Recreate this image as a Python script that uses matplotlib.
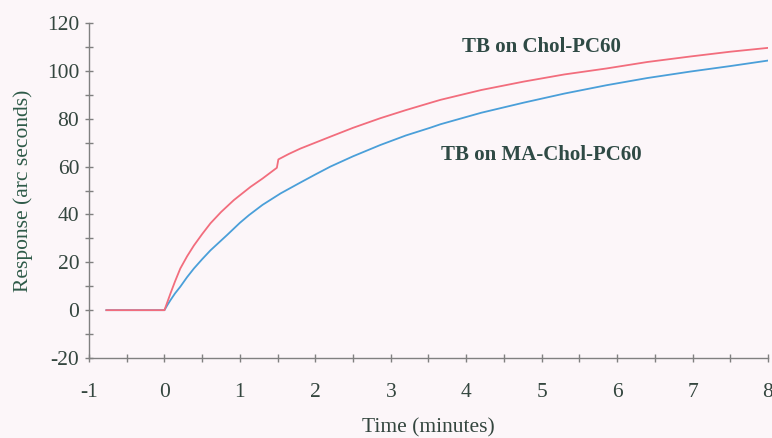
import matplotlib
matplotlib.use("Agg")
import matplotlib.pyplot as plt
from matplotlib.ticker import MultipleLocator

plt.rcParams["axes.unicode_minus"] = False

time_chol = [-0.77, 0.0, 0.04, 0.08, 0.14, 0.21, 0.3, 0.39, 0.5, 0.61, 0.75, 0.92,
             1.14, 1.3, 1.49, 1.51, 1.65, 1.8, 2.0, 2.2, 2.5, 2.86, 3.2, 3.52,
             3.66, 4.2, 4.76, 5.3, 5.86, 6.4, 6.97, 7.5, 8.0]
resp_chol = [0, 0, 3.5, 7, 12, 17.4, 22.5, 27, 31.8, 36.3, 41, 46,
             51.5, 55, 59.5, 63, 65.3, 67.5, 70, 72.5, 76.2, 80.2, 83.6, 86.6,
             87.9, 92, 95.5, 98.5, 101, 103.7, 106, 108, 109.6]

time_ma = [-0.77, 0.0, 0.04, 0.08, 0.14, 0.21, 0.3, 0.39, 0.5, 0.61, 0.83, 1.0,
           1.12, 1.3, 1.54, 1.8, 2.0, 2.2, 2.5, 2.86, 3.2, 3.52, 3.66, 4.2,
           4.76, 5.3, 5.86, 6.4, 6.97, 7.5, 8.0]
resp_ma = [0, 0, 2.2, 4.2, 7, 9.8, 13.8, 17.4, 21.3, 25, 31.4, 36.5,
           39.7, 44, 48.8, 53.3, 56.7, 60, 64.3, 69, 73.0, 76.2, 77.7, 82.5,
           86.7, 90.5, 94, 97, 99.7, 102, 104.3]

label_chol = "TB on Chol-PC60"
label_ma = "TB on MA-Chol-PC60"
x_ticks = [-1, 0, 1, 2, 3, 4, 5, 6, 7, 8]
y_ticks = [-20, 0, 20, 40, 60, 80, 100, 120]

bg = "#fcf6f9"
txt = "#34463f"
axc = "#808080"
serif = ["Liberation Serif", "DejaVu Serif"]

fig = plt.figure(figsize=(7.72, 4.38), dpi=100, facecolor=bg)
ax = fig.add_axes([0.1153, 0.1826, 0.9948 - 0.1153, 0.9475 - 0.1826])
ax.set_facecolor(bg)

ax.plot(time_ma, resp_ma, color="#4a9fd9", lw=1.3)
ax.plot(time_chol, resp_chol, color="#f26d7d", lw=1.3)

ax.set_xlim(-1, 8)
ax.set_ylim(-20, 120)
ax.set_xticks(x_ticks)
ax.set_yticks(y_ticks)
ax.xaxis.set_minor_locator(MultipleLocator(0.5))
ax.yaxis.set_minor_locator(MultipleLocator(10))

for s in ["top", "right"]:
    ax.spines[s].set_visible(False)
for s in ["left", "bottom"]:
    ax.spines[s].set_color(axc)
    ax.spines[s].set_linewidth(1.0)

ax.tick_params(axis="both", which="both", direction="inout", length=6,
               width=1.0, color=axc, labelcolor=txt, labelsize=15.5)
ax.tick_params(axis="x", which="major", pad=15)
ax.tick_params(axis="y", which="major", pad=4)
for lab in ax.get_xticklabels() + ax.get_yticklabels():
    lab.set_family(serif)

ax.set_xlabel("Time (minutes)", family=serif, fontsize=15.5, color=txt, labelpad=12)
ax.set_ylabel("Response (arc seconds)", family=serif, fontsize=15.5, color="#2e5a48", labelpad=10)

ax.text(5.0, 110, label_chol, family=serif, fontweight="bold", fontsize=15,
        color="#2f4a45", ha="center", va="center")
ax.text(5.0, 65, label_ma, family=serif, fontweight="bold", fontsize=15,
        color="#2f4a45", ha="center", va="center")

fig.savefig("out.png", dpi=100, facecolor=bg)
